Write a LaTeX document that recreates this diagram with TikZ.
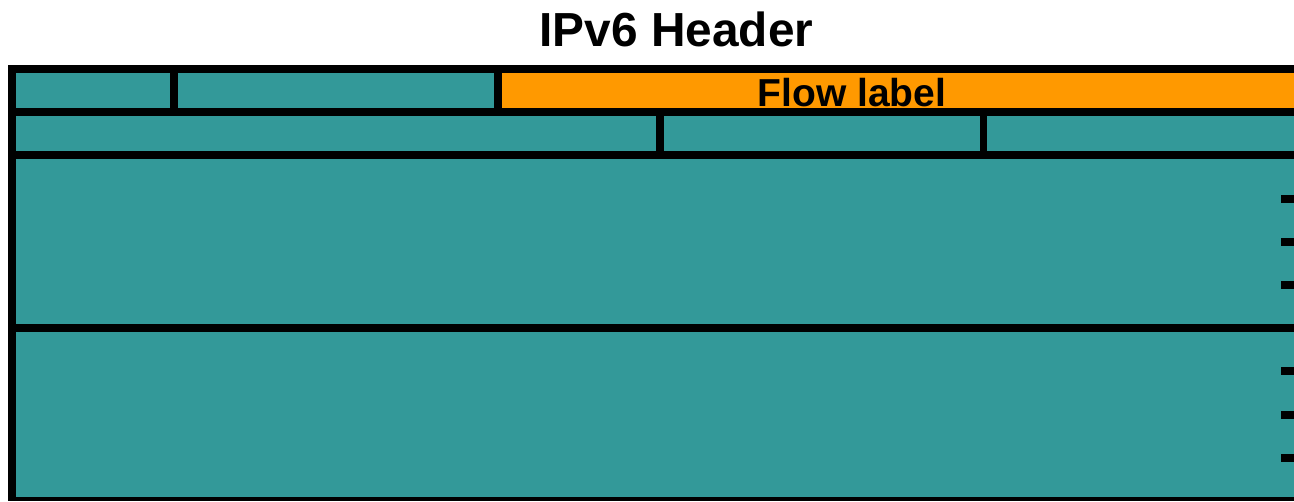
\documentclass[tikz,border=0pt]{standalone}
\usepackage{fontspec}
\setmainfont{Liberation Sans}
\definecolor{teal6}{RGB}{51,153,153}
\definecolor{orange6}{RGB}{255,153,0}
\begin{document}
\begin{tikzpicture}[x=1pt,y=-1pt,
  cell/.style={fill=teal6,draw=none,inner sep=0pt,outer sep=0pt,anchor=north west},
  flowcell/.style={cell,fill=orange6},
  tick/.style={fill=black,draw=none,inner sep=0pt,outer sep=0pt,anchor=north west,minimum width=13pt,minimum height=8pt},
  txt/.style={inner sep=0pt,outer sep=0pt,anchor=base,font=\bfseries}]
\useasboundingbox (0,0) rectangle (1294,501);
\fill[white] (0,0) rectangle (1294,501);
% black frame background
\node[fill=black,inner sep=0pt,outer sep=0pt,anchor=north west,minimum width=1286pt,minimum height=436pt] (frame) at (8,65) {};
% row 1
\node[cell,minimum width=154pt,minimum height=35pt] (ver) at (16,73) {};
\node[cell,minimum width=316pt,minimum height=35pt] (tc) at (178,73) {};
\node[flowcell,minimum width=792pt,minimum height=35pt] (fl) at (502,73) {};
% row 2
\node[cell,minimum width=640pt,minimum height=35pt] (plen) at (16,116) {};
\node[cell,minimum width=316pt,minimum height=35pt] (nh) at (664,116) {};
\node[cell,minimum width=307pt,minimum height=35pt] (hl) at (987,116) {};
% row 3, 4
\node[cell,minimum width=1278pt,minimum height=165pt] (src) at (16,159) {};
\node[cell,minimum width=1278pt,minimum height=165pt] (dst) at (16,332) {};
% ticks
\node[tick] (t1) at (1281,194.5) {};
\node[tick] (t2) at (1281,237.5) {};
\node[tick] (t3) at (1281,281) {};
\node[tick] (t4) at (1281,367) {};
\node[tick] (t5) at (1281,410.5) {};
\node[tick] (t6) at (1281,453.5) {};
% texts
\node[txt,font=\fontsize{47.8}{50}\selectfont\bfseries] (title) at (676.5,46.5) {IPv6 Header};
\node[txt,font=\fontsize{39}{41}\selectfont\bfseries] (fltext) at (852,106) {Flow label};
\end{tikzpicture}
\end{document}
